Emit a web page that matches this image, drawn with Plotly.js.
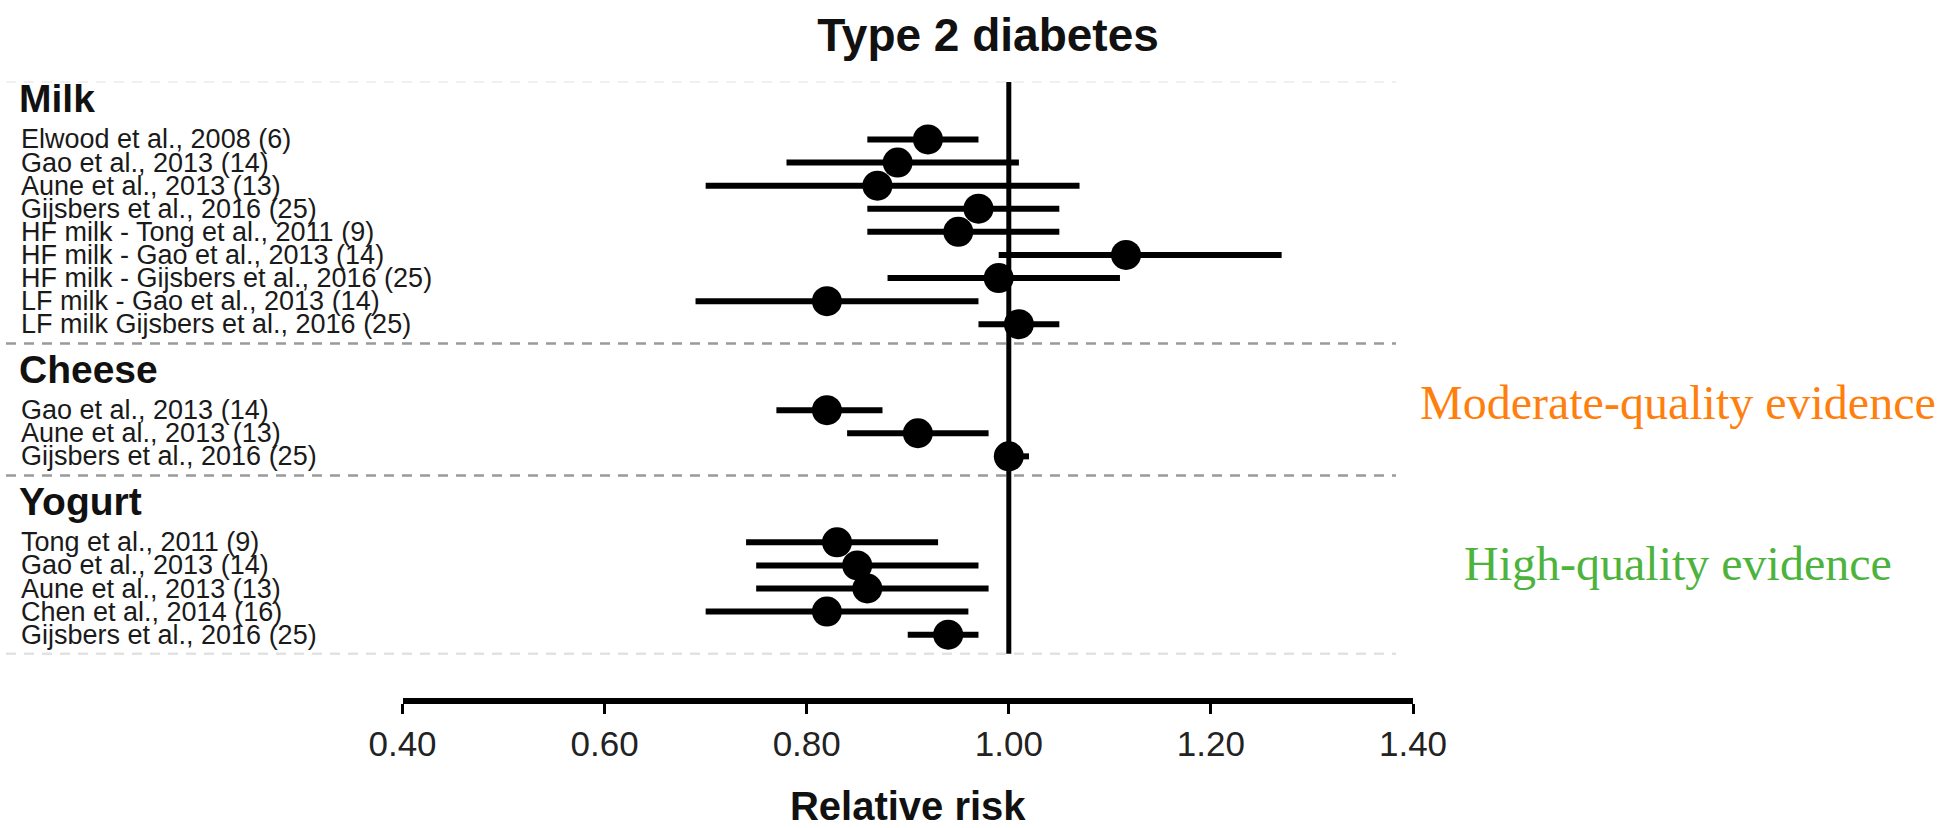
<!DOCTYPE html>
<html>
<head>
<meta charset="utf-8">
<script src="https://cdn.plot.ly/plotly-3.0.1.min.js"></script>
<style>html,body{margin:0;padding:0;background:#fff;}#chart{width:1954px;height:828px;}</style>
</head>
<body>
<div id="chart"></div>
<script>
// ---- data ----
const groups = ["Milk", "Cheese", "Yogurt"];

const milkLabels = ["Elwood et al., 2008 (6)", "Gao et al., 2013 (14)", "Aune et al., 2013 (13)",
  "Gijsbers et al., 2016 (25)", "HF milk - Tong et al., 2011 (9)", "HF milk - Gao et al., 2013 (14)",
  "HF milk - Gijsbers et al., 2016 (25)", "LF milk - Gao et al., 2013 (14)", "LF milk Gijsbers et al., 2016 (25)"];
const milkRR = [0.92, 0.89, 0.87, 0.97, 0.95, 1.116, 0.99, 0.82, 1.01];
const milkLo = [0.86, 0.78, 0.70, 0.86, 0.86, 0.99, 0.88, 0.69, 0.97];
const milkHi = [0.97, 1.01, 1.07, 1.05, 1.05, 1.27, 1.11, 0.97, 1.05];

const cheeseLabels = ["Gao et al., 2013 (14)", "Aune et al., 2013 (13)", "Gijsbers et al., 2016 (25)"];
const cheeseRR = [0.82, 0.91, 1.00];
const cheeseLo = [0.77, 0.84, 0.99];
const cheeseHi = [0.875, 0.98, 1.02];

const yogurtLabels = ["Tong et al., 2011 (9)", "Gao et al., 2013 (14)", "Aune et al., 2013 (13)",
  "Chen et al., 2014 (16)", "Gijsbers et al., 2016 (25)"];
const yogurtRR = [0.83, 0.85, 0.86, 0.82, 0.94];
const yogurtLo = [0.74, 0.75, 0.75, 0.70, 0.90];
const yogurtHi = [0.93, 0.97, 0.98, 0.96, 0.97];

const tickVals = [0.4, 0.6, 0.8, 1.0, 1.2, 1.4];
const tickText = ["0.40", "0.60", "0.80", "1.00", "1.20", "1.40"];
const noteModerate = "Moderate-quality evidence";
const noteHigh = "High-quality evidence";

// ---- layout helpers ----
const W = 1954, H = 828;
const SANS = "Liberation Sans, Arial, sans-serif";
const SERIF = "Liberation Serif, Times New Roman, serif";
const groupData = [
  {name: groups[0], labels: milkLabels, rr: milkRR, lo: milkLo, hi: milkHi},
  {name: groups[1], labels: cheeseLabels, rr: cheeseRR, lo: cheeseLo, hi: cheeseHi},
  {name: groups[2], labels: yogurtLabels, rr: yogurtRR, lo: yogurtLo, hi: yogurtHi}
];

const xs = [], ys = [], ep = [], em = [];
const annotations = [], shapes = [];
let pos = 0;
const sepPositions = [];
groupData.forEach(g => {
  annotations.push({xref: 'paper', yref: 'y', x: 17 / W, y: pos - 0.05, xanchor: 'left', yanchor: 'middle',
    text: '<b>' + g.name + '</b>', showarrow: false, font: {family: SANS, size: 39, color: '#111'}});
  pos += 1.72;
  g.labels.forEach((lab, i) => {
    const p = pos + i;
    xs.push(g.rr[i]); ys.push(p);
    ep.push(g.hi[i] - g.rr[i]); em.push(g.rr[i] - g.lo[i]);
    annotations.push({xref: 'paper', yref: 'y', x: 19 / W, y: p, xanchor: 'left', yanchor: 'middle',
      text: lab, showarrow: false, font: {family: SANS, size: 27, color: '#1a1a1a'}});
  });
  const last = pos + g.labels.length - 1;
  sepPositions.push(last + 0.83);
  pos = last + 2.0;
});

sepPositions.forEach((sp, i) => {
  const last = i === sepPositions.length - 1;
  shapes.push({type: 'line', xref: 'paper', yref: 'y', x0: 6 / W, x1: 1396 / W, y0: sp, y1: sp,
    line: {color: last ? '#e2e2e2' : '#9a9a9a', width: 2.5, dash: '10px,8px'}, layer: 'below'});
});
// faint top rule
shapes.push({type: 'line', xref: 'paper', yref: 'y', x0: 6 / W, x1: 1396 / W, y0: -0.77, y1: -0.77,
  line: {color: '#f0f0f0', width: 2, dash: '10px,8px'}, layer: 'below'});
// reference line at RR = 1
shapes.push({type: 'line', xref: 'x', yref: 'y', x0: 1, x1: 1, y0: -0.77, y1: sepPositions[sepPositions.length - 1],
  line: {color: '#000', width: 5}, layer: 'below'});

annotations.push({xref: 'paper', yref: 'paper', x: 1678 / W, y: 1 - 403 / H, xanchor: 'center', yanchor: 'middle',
  text: noteModerate, showarrow: false, font: {family: SERIF, size: 48, color: '#FF7F0E'}});
annotations.push({xref: 'paper', yref: 'paper', x: 1678 / W, y: 1 - 563 / H, xanchor: 'center', yanchor: 'middle',
  text: noteHigh, showarrow: false, font: {family: SERIF, size: 48, color: '#4DB33D'}});

const yTop = (60 - 99.7) / 23.1, yBot = (698 - 99.7) / 23.1;

const trace = {
  type: 'scatter', mode: 'markers', x: xs, y: ys,
  marker: {color: '#000', size: 30, line: {width: 0}},
  error_x: {type: 'data', symmetric: false, array: ep, arrayminus: em, color: '#000', thickness: 6, width: 0},
  hoverinfo: 'x+y', showlegend: false, cliponaxis: false
};

const layout = {
  width: W, height: H,
  margin: {l: 0, r: 0, t: 0, b: 0},
  paper_bgcolor: '#fff', plot_bgcolor: '#fff',
  showlegend: false,
  title: {text: '<b>Type 2 diabetes</b>', x: 988 / W, xanchor: 'center', y: 1 - 35 / H, yanchor: 'middle',
    xref: 'paper', yref: 'container', font: {family: SANS, size: 46, color: '#111'}},
  xaxis: {
    domain: [402.5 / W, 1413 / W], range: [0.4, 1.4], showgrid: false, zeroline: false,
    showline: true, linecolor: '#000', linewidth: 6, mirror: false,
    ticks: 'outside', ticklen: 10, tickwidth: 3, tickcolor: '#000',
    tickvals: tickVals, ticktext: tickText,
    tickfont: {family: SANS, size: 35, color: '#222'},
    title: {text: '<b>Relative risk</b>', font: {family: SANS, size: 40, color: '#111'}, standoff: 36}
  },
  yaxis: {domain: [1 - 698 / H, 1 - 60 / H], range: [yBot, yTop], visible: false, fixedrange: true},
  shapes: shapes,
  annotations: annotations
};

Plotly.newPlot('chart', [trace], layout, {displayModeBar: false, staticPlot: true});
</script>
</body>
</html>
